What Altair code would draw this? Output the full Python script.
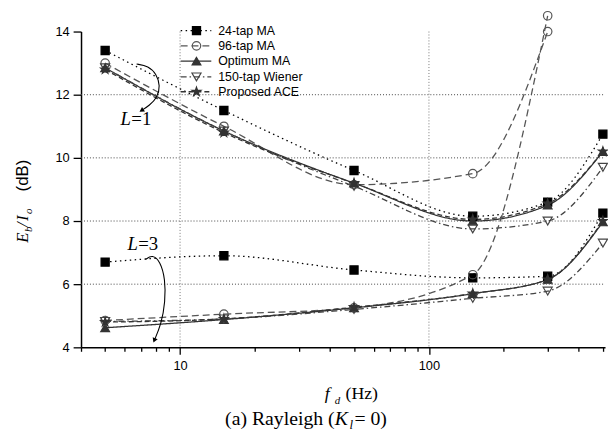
import altair as alt
import pandas as pd

# ---------------- data ----------------
freqs = [5, 15, 50, 150, 300, 500]
series_order = ["24-tap MA", "96-tap MA", "Optimum MA", "150-tap Wiener", "Proposed ACE"]

ma24_L1 = [13.4, 11.5, 9.6, 8.15, 8.6, 10.75]
ma96_L1 = [13.0, 11.0, 9.15, 9.5, 14.0]
opt_L1 = [12.85, 10.85, 9.2, 8.0, 8.5, 10.2]
wien_L1 = [12.85, 10.85, 9.1, 7.75, 8.0, 9.7]
ace_L1 = [12.8, 10.8, 9.2, 8.05, 8.55, 10.2]

ma24_L3 = [6.7, 6.9, 6.45, 6.2, 6.25, 8.25]
ma96_L3 = [4.85, 5.05, 5.25, 6.3, 14.5]
opt_L3 = [4.62, 4.88, 5.25, 5.7, 6.15, 7.97]
wien_L3 = [4.82, 4.9, 5.2, 5.55, 5.78, 7.3]
ace_L3 = [4.8, 4.9, 5.27, 5.7, 6.15, 8.0]

grid_y = [6, 8, 10, 12]
grid_x = [10, 100]
x_ticks = [4, 5, 6, 7, 8, 9, 10, 20, 30, 40, 50, 60, 70, 80, 90, 100, 200, 300, 400, 500]
y_ticks = [4, 5, 6, 7, 8, 9, 10, 11, 12, 13, 14]

# annotation arcs (data coordinates)
arc1_f = [6.69, 7.46, 8.03, 8.33, 8.10, 7.53, 7.0]
arc1_v = [12.97, 12.91, 12.66, 12.28, 11.91, 11.66, 11.5]
arc3_f = [7.26, 7.74, 8.33, 8.72, 8.72, 8.41, 7.88]
arc3_v = [6.78, 6.94, 6.72, 6.16, 5.44, 4.75, 4.22]

# ---------------- build table ----------------
rows = []
def add(name, L, vals):
    for f, v in zip(freqs, vals):
        rows.append({"f": f, "v": v, "series": name, "L": L})

add("24-tap MA", 1, ma24_L1); add("96-tap MA", 1, ma96_L1); add("Optimum MA", 1, opt_L1)
add("150-tap Wiener", 1, wien_L1); add("Proposed ACE", 1, ace_L1)
add("24-tap MA", 3, ma24_L3); add("96-tap MA", 3, ma96_L3); add("Optimum MA", 3, opt_L3)
add("150-tap Wiener", 3, wien_L3); add("Proposed ACE", 3, ace_L3)
df = pd.DataFrame(rows)

W, H = 531, 320
OX, OY = 82, 29  # page position of plot origin

star = "M0,-1L0.225,-0.309L0.951,-0.309L0.363,0.118L0.588,0.809L0,0.382L-0.588,0.809L-0.363,0.118L-0.951,-0.309L-0.225,-0.309Z"
dash_range = [[1.5, 3.5], [7, 4], [1, 0], [6, 3, 1.5, 3], [5, 3]]
color_range = ["#000000", "#555555", "#333333", "#444444", "#333333"]
shape_range = ["square", "circle", "triangle-up", "triangle-down", star]
fill_range = ["#000000", "transparent", "#333333", "transparent", "#333333"]
size_range = [68, 90, 75, 95, 125]

xs = alt.Scale(type="log", domain=[4, 510], nice=False)
ys = alt.Scale(domain=[4, 14], nice=False, zero=False)
sd = alt.StrokeDash("series:N", scale=alt.Scale(domain=series_order, range=dash_range), legend=None)
col = alt.Color("series:N", scale=alt.Scale(domain=series_order, range=color_range), legend=None)
shp = alt.Shape("series:N", scale=alt.Scale(domain=series_order, range=shape_range), legend=None)
fil = alt.Fill("series:N", scale=alt.Scale(domain=series_order, range=fill_range), legend=None)
siz = alt.Size("series:N", scale=alt.Scale(domain=series_order, range=size_range), legend=None)

major_x = "datum.value == 10 || datum.value == 100"
x_axis = alt.Axis(values=x_ticks, labelExpr=f"({major_x}) ? '' + datum.value : ''",
                  tickSize={"condition": {"test": major_x, "value": 7}, "value": 4},
                  title=None, grid=False, domainColor="black", tickColor="black",
                  domainWidth=1.5, tickWidth=1.3, labelFont="Liberation Sans", labelFontSize=13,
                  labelColor="black", labelPadding=5, labelFlush=False)
even_y = "datum.value % 2 == 0"
y_axis = alt.Axis(values=y_ticks, labelExpr=f"({even_y}) ? '' + datum.value : ''",
                  tickSize={"condition": {"test": even_y, "value": 8}, "value": 4},
                  title=None, grid=False, domainColor="black", tickColor="black",
                  domainWidth=1.5, tickWidth=1.3, labelFont="Liberation Sans", labelFontSize=13,
                  labelColor="black", labelPadding=4, labelFlush=False)

base = alt.Chart(df)

gh = alt.Chart(pd.DataFrame({"g": grid_y})).mark_rule(color="#444", strokeDash=[1, 2], strokeWidth=1).encode(
    y=alt.Y("g:Q", scale=ys, axis=y_axis), x=alt.value(0), x2=alt.value(W))
gv = alt.Chart(pd.DataFrame({"g": grid_x})).mark_rule(color="#777", strokeDash=[1, 2], strokeWidth=1).encode(
    x=alt.X("g:Q", scale=xs, axis=x_axis), y=alt.value(0), y2=alt.value(H))

lines = base.mark_line(interpolate="monotone", strokeWidth=1.3).encode(
    x=alt.X("f:Q", scale=xs, axis=x_axis), y=alt.Y("v:Q", scale=ys, axis=y_axis),
    strokeDash=sd, color=col, detail="L:N")

pts = base.mark_point(strokeWidth=1.2, opacity=1, fillOpacity=1).encode(
    x=alt.X("f:Q", scale=xs), y=alt.Y("v:Q", scale=ys),
    shape=shp, fill=fil, color=col, size=siz)

layers = [gh, gv, lines, pts]

# ------------- legend (manual) -------------
leg_y = [28, 43.5, 59, 75, 90]
for name, yy in zip(series_order, leg_y):
    d = pd.DataFrame({"series": [name]})
    c = alt.Chart(d)
    layers.append(c.mark_rule(strokeWidth=1.3).encode(
        x=alt.value(183 - OX), x2=alt.value(214 - OX), y=alt.value(yy - OY), strokeDash=sd, color=col))
    layers.append(c.mark_point(strokeWidth=1.2, opacity=1, fillOpacity=1).encode(
        x=alt.value(199 - OX), y=alt.value(yy - OY), shape=shp, fill=fil, color=col, size=siz))
    layers.append(c.mark_text(align="left", baseline="middle", font="Liberation Sans", fontSize=12.5,
                              color="black").encode(
        x=alt.value(221 - OX), y=alt.value(yy - OY), text="series:N"))

# ------------- annotation arrows -------------
def arc(fs, vs, ang):
    d = pd.DataFrame({"f": fs, "v": vs, "i": list(range(len(fs)))})
    ln = alt.Chart(d).mark_line(interpolate="basis", color="black", strokeWidth=1.1).encode(
        x=alt.X("f:Q", scale=xs), y=alt.Y("v:Q", scale=ys), order="i:Q")
    tip = alt.Chart(d.tail(1)).mark_point(shape="triangle-up", filled=True, color="black", size=30,
                                          angle=ang, opacity=1).encode(
        x=alt.X("f:Q", scale=xs), y=alt.Y("v:Q", scale=ys))
    return [ln, tip]

layers += arc(arc1_f, arc1_v, 238)
layers += arc(arc3_f, arc3_v, 202)

# ------------- text pieces -------------
def txt(s, px, py, size=17, style="normal", font="Liberation Serif", angle=0, align="left"):
    return alt.Chart(pd.DataFrame({"t": [s]})).mark_text(
        align=align, baseline="alphabetic", font=font, fontSize=size, fontStyle=style,
        color="black", angle=angle).encode(
        x=alt.value(px - OX), y=alt.value(py - OY), text="t:N")

# L=1 / L=3 labels
layers += [txt("L", 122, 124, 19, "italic"), txt("=1", 133, 124, 19)]
layers += [txt("L", 129, 250, 19, "italic"), txt("=3", 140, 250, 19)]

# y title (rotated)
layers += [
    txt("E", 28, 243, 17, "italic", angle=270),
    txt("b", 32, 232, 11, "italic", angle=270),
    txt("/", 28, 227, 17, "italic", angle=270),
    txt("I", 28, 221, 17, "italic", angle=270),
    txt("o", 32, 214, 11, "italic", angle=270),
    txt("(dB)", 28, 191, 17, "normal", "Liberation Sans", angle=270),
]

# x title
layers += [txt("f", 329, 401, 18, "italic"), txt("d", 339, 406, 11, "italic"), txt("(Hz)", 350, 401, 18)]

# caption
layers += [txt("(a) Rayleigh (", 228, 428, 20), txt("K", 339, 428, 20, "italic"),
           txt("l", 354, 432, 13, "italic"), txt(" = 0)", 359, 428, 20)]

chart = alt.layer(*layers).properties(
    width=W, height=H,
    autosize=alt.AutoSizeParams(type="none"),
    padding={"left": OX - 8, "top": OY - 8, "right": 3, "bottom": 88},
).configure_view(stroke=None)

chart.save("out.html", embed_options={"renderer": "svg", "actions": False})
